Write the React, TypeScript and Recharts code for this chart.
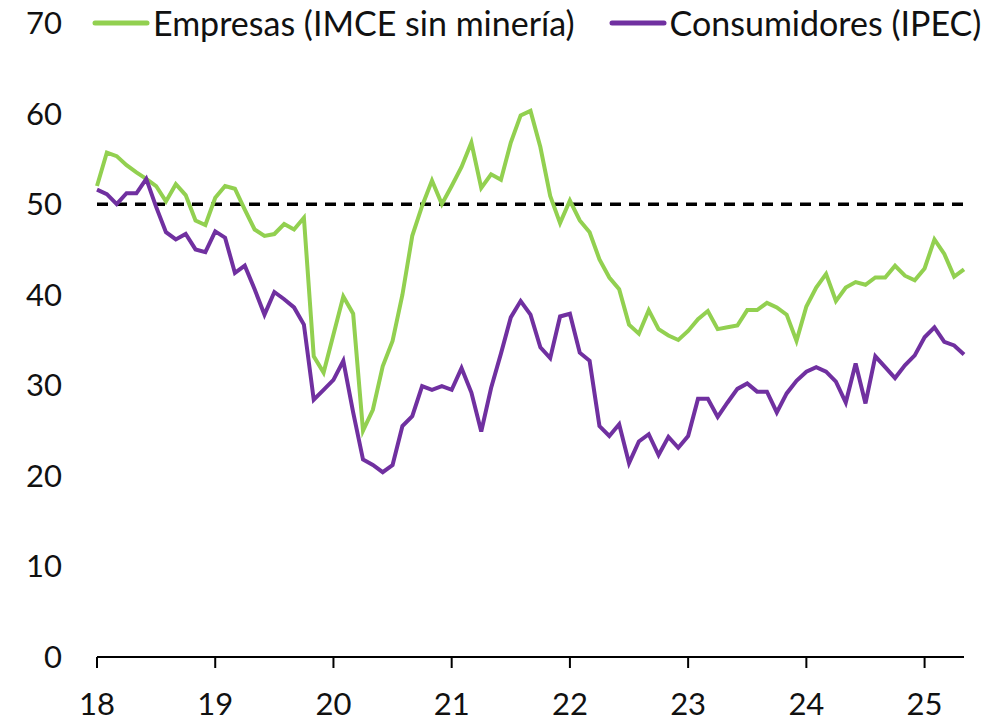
import { LineChart, Line, XAxis, YAxis, ReferenceLine } from "recharts";

// monthly, Jan 2018 .. May 2025
const empresas = [
  52.0, 55.7, 55.3, 54.3, 53.5, 52.8, 52.0, 50.3, 52.2, 51.0, 48.2, 47.7,
  50.7, 52.0, 51.7, 49.4, 47.2, 46.5, 46.7, 47.8, 47.2, 48.5, 33.2, 31.4,
  35.6, 39.8, 37.9, 25.0, 27.3, 32.1, 34.9, 40.0, 46.5, 49.8, 52.6, 50.0,
  52.0, 54.1, 56.8, 51.8, 53.3, 52.7, 56.8, 59.8, 60.3, 56.3, 50.9, 47.9,
  50.4, 48.2, 46.9, 43.9, 41.9, 40.6, 36.7, 35.7, 38.3, 36.2, 35.5, 35.0,
  36.0, 37.3, 38.2, 36.2, 36.4, 36.6, 38.3, 38.3, 39.1, 38.6, 37.8, 34.9,
  38.7, 40.8, 42.3, 39.3, 40.8, 41.4, 41.1, 41.9, 41.9, 43.2, 42.1, 41.6,
  42.9, 46.1, 44.5, 42.0, 42.8,
];

const consumidores = [
  51.6, 51.1, 50.0, 51.2, 51.2, 52.8, 49.7, 46.9, 46.1, 46.7, 45.0, 44.7,
  47.0, 46.3, 42.4, 43.2, 40.6, 37.8, 40.3, 39.5, 38.6, 36.7, 28.4, 29.5,
  30.6, 32.7, 27.0, 21.8, 21.2, 20.4, 21.2, 25.5, 26.6, 29.9, 29.5, 29.9,
  29.5, 31.9, 29.2, 24.9, 29.7, 33.5, 37.5, 39.3, 37.8, 34.2, 33.0, 37.6,
  37.9, 33.6, 32.7, 25.5, 24.4, 25.7, 21.4, 23.8, 24.6, 22.3, 24.3, 23.1,
  24.4, 28.5, 28.5, 26.5, 28.1, 29.6, 30.2, 29.3, 29.3, 27.0, 29.1, 30.5,
  31.5, 32.0, 31.5, 30.4, 28.1, 32.4, 28.0, 33.2, 32.0, 30.8, 32.2, 33.3,
  35.3, 36.4, 34.8, 34.4, 33.4,
];

const yearLabels = ["18", "19", "20", "21", "22", "23", "24", "25"];
const yTicks = [0, 10, 20, 30, 40, 50, 60, 70];
const neutral = 50;

const GREEN = "#92D050";
const PURPLE = "#7030A0";
const FONT = "Lato";

const data = empresas.map((v, i) => ({ i, empresas: v, consumidores: consumidores[i] }));
const xTicks = yearLabels.map((_, k) => k * 12);

const legendItems = [
  { label: "Empresas (IMCE sin minería)", color: GREEN },
  { label: "Consumidores (IPEC)", color: PURPLE },
];

// legend sits inside the plot area, so it is drawn as an overlay
function LegendBox() {
  return (
    <div
      style={{
        position: "absolute",
        left: 92,
        top: 2,
        display: "flex",
        alignItems: "center",
        fontFamily: FONT,
        fontSize: 34,
        lineHeight: "42px",
        color: "#111",
      }}
    >
      {legendItems.map((it, k) => (
        <div key={k} style={{ display: "flex", alignItems: "center", marginRight: 34 }}>
          <svg width={58} height={8} style={{ marginRight: 3 }}>
            <line x1={3} y1={4} x2={55} y2={4} stroke={it.color} strokeWidth={5} strokeLinecap="round" />
          </svg>
          <span style={{ whiteSpace: "nowrap" }}>{it.label}</span>
        </div>
      ))}
    </div>
  );
}

export default function App() {
  return (
    <div style={{ position: "absolute", left: 0, top: 0, width: 989, height: 721, background: "#fff" }}>
      <LineChart width={989} height={721} data={data} margin={{ top: 23, right: 25, bottom: 0, left: 0 }}>
        <XAxis
          type="number"
          dataKey="i"
          domain={[0, empresas.length - 1]}
          ticks={xTicks}
          tickFormatter={(v) => yearLabels[v / 12]}
          tick={{ fontSize: 31, fill: "#111", fontFamily: FONT }}
          axisLine={{ stroke: "#000", strokeWidth: 2 }}
          tickLine={{ stroke: "#000", strokeWidth: 2 }}
          tickSize={11}
          tickMargin={25}
          height={64}
        />
        <YAxis
          domain={[0, 70]}
          ticks={yTicks}
          tick={{ fontSize: 31, fill: "#111", fontFamily: FONT }}
          axisLine={false}
          tickLine={false}
          tickSize={0}
          tickMargin={35}
          width={97}
          interval={0}
        />
        <ReferenceLine y={neutral} stroke="#000" strokeWidth={3.5} strokeDasharray="11 8" />
        <Line
          type="linear"
          dataKey="empresas"
          stroke={GREEN}
          strokeWidth={4}
          dot={false}
          isAnimationActive={false}
        />
        <Line
          type="linear"
          dataKey="consumidores"
          stroke={PURPLE}
          strokeWidth={4}
          dot={false}
          isAnimationActive={false}
        />
      </LineChart>
      <LegendBox />
    </div>
  );
}
